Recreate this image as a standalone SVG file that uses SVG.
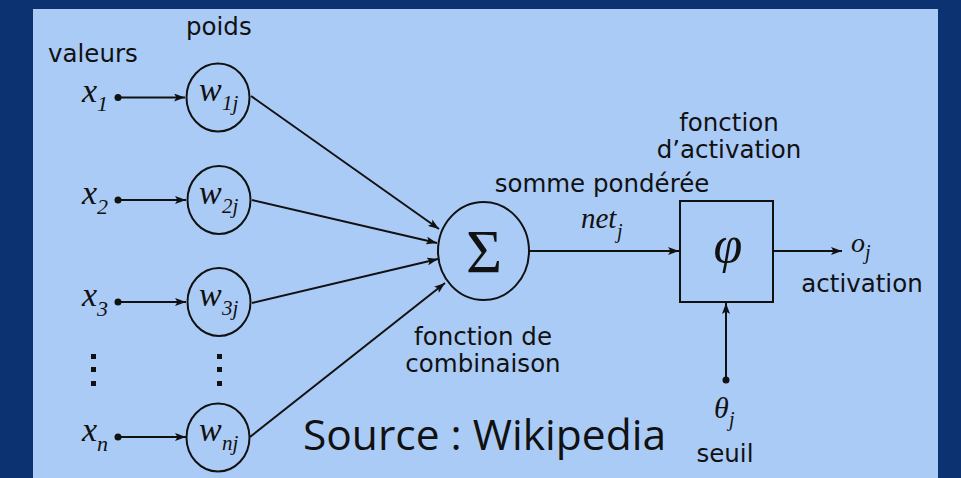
<svg xmlns="http://www.w3.org/2000/svg" width="961" height="478" viewBox="0 0 961 478">
<defs>
<style>
.lbl{font-family:"DejaVu Sans",sans-serif;font-size:24.5px;fill:#111}
.m{font-family:"Liberation Serif",serif;font-style:italic;fill:#111}
.node{fill:none;stroke:#111;stroke-width:2}
.edge{fill:none;stroke:#111;stroke-width:2}
</style>
<marker id="ah" markerUnits="userSpaceOnUse" viewBox="0 0 11 8" refX="11" refY="4" markerWidth="11" markerHeight="8" orient="auto">
<path d="M0,0 L11,4 L0,8 L2.5,4 z" fill="#111"/>
</marker>
</defs>
<rect x="0" y="0" width="961" height="478" fill="#0d3272"/>
<rect x="33" y="9" width="905" height="469" fill="#abcbf7"/>

<g id="connectors">
<line class="edge" x1="118" y1="97.5" x2="185" y2="97.5" marker-end="url(#ah)"/>
<line class="edge" x1="118" y1="200" x2="186" y2="200" marker-end="url(#ah)"/>
<line class="edge" x1="118" y1="302" x2="186" y2="302" marker-end="url(#ah)"/>
<line class="edge" x1="118" y1="437" x2="186" y2="437" marker-end="url(#ah)"/>
<line class="edge" x1="251" y1="96" x2="439" y2="229" marker-end="url(#ah)"/>
<line class="edge" x1="252" y1="200" x2="437" y2="243" marker-end="url(#ah)"/>
<line class="edge" x1="252" y1="303" x2="438" y2="259" marker-end="url(#ah)"/>
<line class="edge" x1="250" y1="437" x2="445" y2="283" marker-end="url(#ah)"/>
<line class="edge" x1="529" y1="251" x2="679" y2="251" marker-end="url(#ah)"/>
<line class="edge" x1="773" y1="251" x2="842" y2="251" marker-end="url(#ah)"/>
<line class="edge" x1="726" y1="380" x2="726" y2="303" marker-end="url(#ah)"/>
<circle cx="118" cy="97.5" r="3.5" fill="#111"/>
<circle cx="118" cy="200" r="3.5" fill="#111"/>
<circle cx="118" cy="302" r="3.5" fill="#111"/>
<circle cx="118" cy="437" r="3.5" fill="#111"/>
<circle cx="726" cy="380" r="3.5" fill="#111"/>
</g>

<g id="labels-top">
<text class="lbl" x="48" y="62">valeurs</text>
<text class="lbl" x="186" y="35">poids</text>
</g>

<g id="x1">
<text class="m" x="82" y="102" font-size="34">x</text>
<text class="m" x="97" y="111" font-size="22">1</text>
</g>
<g id="x2">
<text class="m" x="82" y="204" font-size="34">x</text>
<text class="m" x="97" y="214" font-size="22">2</text>
</g>
<g id="x3">
<text class="m" x="82" y="306" font-size="34">x</text>
<text class="m" x="97" y="316" font-size="22">3</text>
</g>
<g id="xn">
<text class="m" x="82" y="441" font-size="34">x</text>
<text class="m" x="97" y="451" font-size="22">n</text>
</g>

<g id="w1">
<ellipse class="node" cx="218" cy="97.5" rx="31.5" ry="34"/>
<text class="m" x="199" y="101" font-size="34">w</text>
<text class="m" x="222" y="110" font-size="21">1j</text>
</g>
<g id="w2">
<ellipse class="node" cx="219" cy="200" rx="31.5" ry="34"/>
<text class="m" x="199" y="204" font-size="34">w</text>
<text class="m" x="222" y="213" font-size="21">2j</text>
</g>
<g id="w3">
<ellipse class="node" cx="219" cy="302" rx="31.5" ry="34"/>
<text class="m" x="199" y="306" font-size="34">w</text>
<text class="m" x="222" y="315" font-size="21">3j</text>
</g>
<g id="wn">
<ellipse class="node" cx="218" cy="437.5" rx="31.5" ry="34"/>
<text class="m" x="199" y="441" font-size="34">w</text>
<text class="m" x="222" y="450" font-size="21">nj</text>
</g>

<g id="dots" fill="#111">
<rect x="91" y="354" width="5" height="5"/>
<rect x="91" y="367" width="5" height="5"/>
<rect x="91" y="381" width="5" height="5"/>
<rect x="217" y="354" width="5" height="5"/>
<rect x="217" y="367" width="5" height="5"/>
<rect x="217" y="381" width="5" height="5"/>
</g>

<g id="sum">
<ellipse class="node" cx="483.5" cy="251" rx="45.5" ry="49"/>
<text x="484" y="272" font-family="Liberation Serif, serif" font-size="62" text-anchor="middle" fill="#111">Σ</text>
<text class="lbl" x="483" y="345" text-anchor="middle">fonction de</text>
<text class="lbl" x="483" y="372" text-anchor="middle">combinaison</text>
</g>

<g id="net">
<text class="lbl" x="602" y="192" text-anchor="middle">somme pondérée</text>
<text class="m" x="581" y="228" font-size="29">net</text>
<text class="m" x="617" y="238" font-size="20">j</text>
</g>

<g id="activation">
<rect class="node" x="680" y="201" width="93" height="101"/>
<text class="m" x="728" y="262" font-size="52" text-anchor="middle">φ</text>
<text class="lbl" x="729" y="131" text-anchor="middle">fonction</text>
<text class="lbl" x="729" y="158" text-anchor="middle">d’activation</text>
</g>

<g id="output">
<text class="m" x="851" y="252" font-size="28">o</text>
<text class="m" x="865" y="259" font-size="20">j</text>
<text class="lbl" x="862" y="292" text-anchor="middle">activation</text>
</g>

<g id="threshold">
<text class="m" x="714" y="418" font-size="30">θ</text>
<text class="m" x="729" y="426" font-size="20">j</text>
<text class="lbl" x="725" y="462" text-anchor="middle">seuil</text>
</g>

<text x="303" y="450" font-family="Open Sans, sans-serif" font-size="42.5" fill="#111">Source : Wikipedia</text>
</svg>
